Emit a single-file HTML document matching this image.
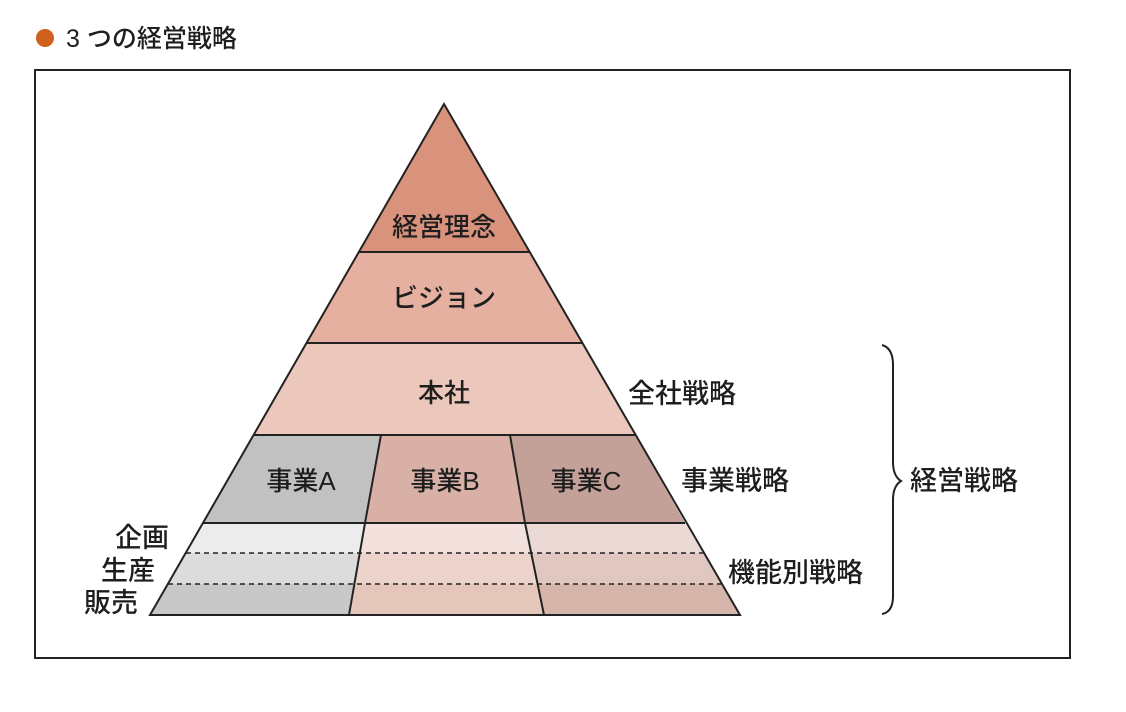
<!DOCTYPE html>
<html><head><meta charset="utf-8"><style>
html,body{margin:0;padding:0;background:#fff;}
svg{display:block;}
text{font-family:"Liberation Sans","Noto Sans CJK JP",sans-serif;fill:#1e1e1e;font-weight:500;}
</style></head><body>
<svg width="1126" height="712" viewBox="0 0 1126 712" xmlns="http://www.w3.org/2000/svg">
<circle cx="45" cy="38" r="9" fill="#d0601e"/>
<text x="66" y="47" font-size="25">3 つの経営戦略</text>
<rect x="35" y="70" width="1035" height="588" fill="none" stroke="#222" stroke-width="2"/>
<polygon points="444,104 529,252 359,252" fill="#d9937d"/>
<polygon points="359,252 529,252 582,343 306,343" fill="#e5b09f"/>
<polygon points="306,343 582,343 635,435 254,435" fill="#ecc7bb"/>
<polygon points="254,435 381,435 365,523 203,523" fill="#c1c1c1"/>
<polygon points="381,435 510,435 525,523 365,523" fill="#d8b0a5"/>
<polygon points="510,435 635,435 685,523 525,523" fill="#c4a198"/>
<polygon points="203,523 365,523 360,553 186,553" fill="#ececec"/>
<polygon points="186,553 360,553 355,584 168,584" fill="#dcdcdc"/>
<polygon points="168,584 355,584 349,615 150,615" fill="#c8c8c8"/>
<polygon points="365,523 525,523 530,553 360,553" fill="#f2e1dc"/>
<polygon points="360,553 530,553 537,584 355,584" fill="#ecd4cc"/>
<polygon points="355,584 537,584 544,615 349,615" fill="#e5c6bb"/>
<polygon points="525,523 685,523 703,553 530,553" fill="#ead9d4"/>
<polygon points="530,553 703,553 721,584 537,584" fill="#e0c7bf"/>
<polygon points="537,584 721,584 740,615 544,615" fill="#d6b5aa"/>
<g stroke="#222" stroke-width="2" fill="none">
<polygon points="444,104 740,615 150,615"/>
<line x1="359" y1="252" x2="529" y2="252"/>
<line x1="306" y1="343" x2="582" y2="343"/>
<line x1="254" y1="435" x2="635" y2="435"/>
<line x1="203" y1="523" x2="685" y2="523"/>
<polyline points="381,435 365,523 349,615"/>
<polyline points="510,435 525,523 544,615"/>
</g>
<g stroke="#222" stroke-width="1.6" stroke-dasharray="5,4">
<line x1="186" y1="553" x2="703" y2="553"/>
<line x1="168" y1="584" x2="721" y2="584"/>
</g>
<g font-size="26" text-anchor="middle">
<text x="444" y="236">経営理念</text>
<text x="444" y="307">ビジョン</text>
<text x="444" y="402">本社</text>
<text x="301" y="490">事業A</text>
<text x="445" y="490">事業B</text>
<text x="586" y="490">事業C</text>
</g>
<g font-size="27">
<text x="628" y="403">全社戦略</text>
<text x="681" y="490">事業戦略</text>
<text x="728" y="582">機能別戦略</text>
<text x="910" y="490">経営戦略</text>
<text x="115" y="547">企画</text>
<text x="101" y="580">生産</text>
<text x="84" y="612">販売</text>
</g>
<path d="M882,345 Q893,348 893,365 L893,462 Q893,476 901,481 Q893,486 893,500 L893,596 Q893,612 882,614" fill="none" stroke="#222" stroke-width="2"/>
</svg>
</body></html>
